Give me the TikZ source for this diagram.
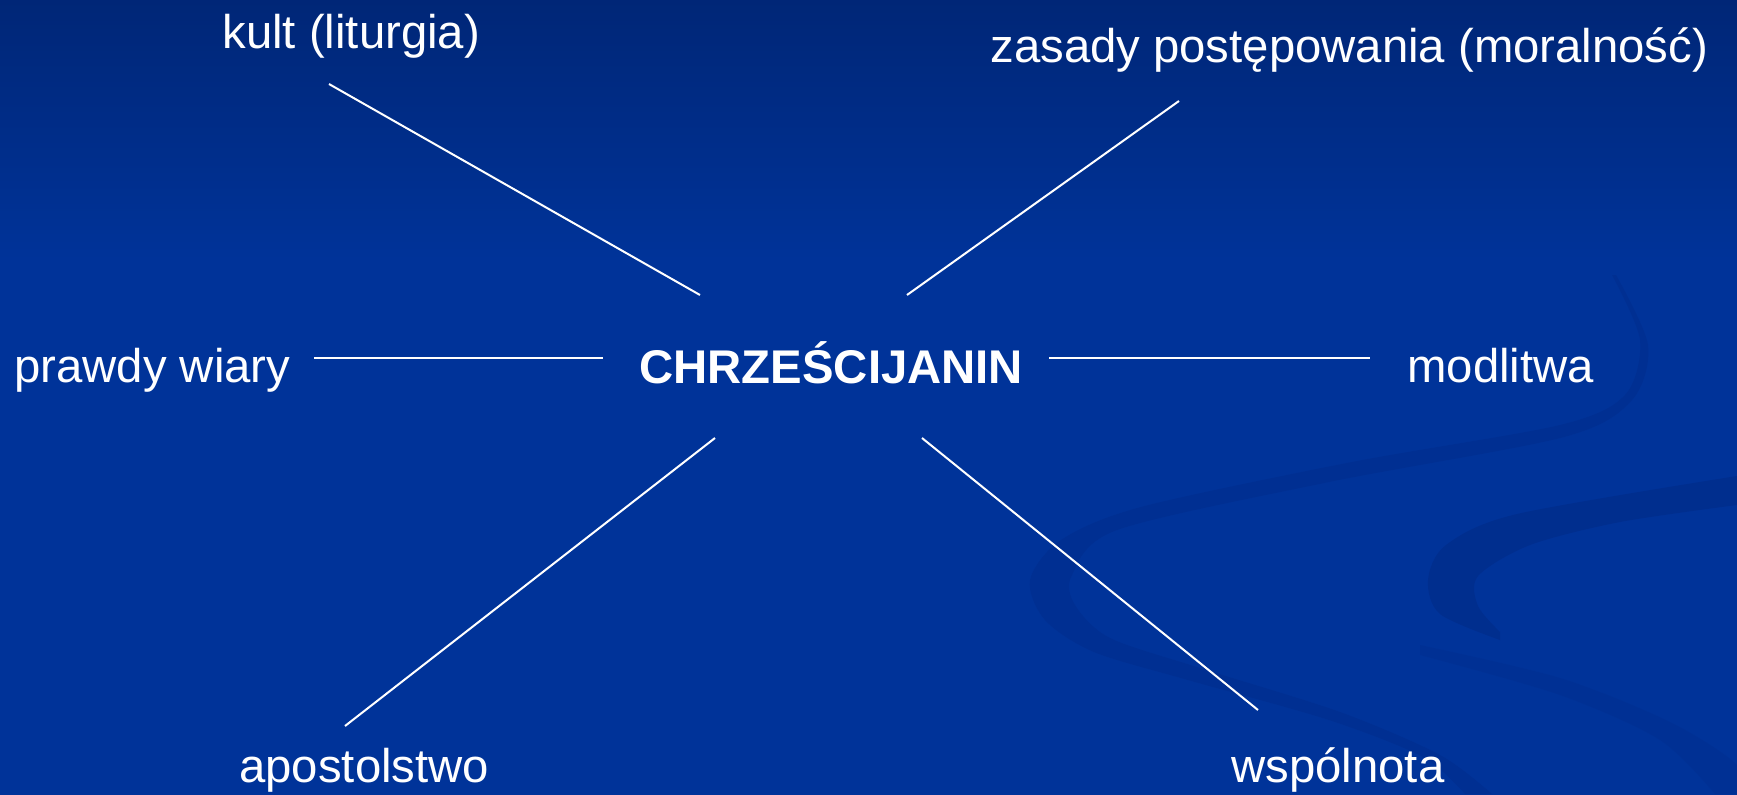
\documentclass[tikz,border=0pt]{standalone}
\usepackage{fontspec}
\setmainfont{Liberation Sans}
\definecolor{bgtop}{RGB}{0,38,118}
\definecolor{bgmid}{RGB}{0,51,153}
\definecolor{swoosh}{RGB}{0,40,130}
\begin{document}
\begin{tikzpicture}[x=0.5pt,y=-0.5pt,
  lbl/.style={anchor=base west,inner sep=0pt,text=white,font=\fontsize{23.65}{28}\selectfont},
  hub/.style={lbl,font=\fontsize{23.65}{28}\selectfont\bfseries},
  spoke/.style={draw=white,line width=1pt},
  band/.style={fill=swoosh,opacity=0.3}]
\useasboundingbox (0,0) rectangle (1737,794);
% background (slightly oversized to avoid edge seams)
\fill[bgmid] (-6,-6) rectangle (1743,800);
\shade[top color=bgtop,bottom color=bgmid] (-6,-6) rectangle (1743,260);
% swooshes
\fill[band] plot[smooth] coordinates {(1612,275) (1640,340) (1625,395) (1560,425) (1352,462) (1141,507) (1061,540) (1030,580) (1045,620) (1094,652) (1188,680) (1329,720) (1423,757) (1465,794)}
  -- plot[smooth] coordinates {(1492,794) (1440,755) (1340,712) (1200,668) (1110,638) (1075,605) (1072,575) (1117,530) (1329,482) (1564,437) (1632,400) (1648,345) (1616,275)} -- cycle;
\fill[band,opacity=0.45] plot[smooth] coordinates {(1737,476) (1517,514) (1446,545) (1428,580) (1440,614) (1500,640)}
  -- plot[smooth] coordinates {(1500,632) (1478,606) (1478,576) (1530,545) (1620,522) (1737,505)} -- cycle;
\fill[band,opacity=0.2] plot[smooth] coordinates {(1420,655) (1560,695) (1660,740) (1715,794)}
  -- plot[smooth] coordinates {(1737,794) (1737,765) (1670,722) (1560,678) (1420,645)} -- cycle;
% labels
\node[lbl] (kult) at (222,48) {kult (liturgia)};
\node[lbl] (zas) at (990,62) {zasady postępowania (moralność)};
\node[lbl] (praw) at (14,382) {prawdy wiary};
\node[hub] (chr) at (639,383) {CHRZEŚCIJANIN};
\node[lbl] (mod) at (1407,382) {modlitwa};
\node[lbl] (apo) at (239,782) {apostolstwo};
\node[lbl] (wsp) at (1231,782) {wspólnota};
% connector end points
\coordinate (k1) at (329,84);   \coordinate (k2) at (700,295);
\coordinate (z1) at (1179,101); \coordinate (z2) at (907,295);
\coordinate (p1) at (314,358);  \coordinate (p2) at (603,358);
\coordinate (m1) at (1049,358); \coordinate (m2) at (1370,358);
\coordinate (a1) at (715,438);  \coordinate (a2) at (345,726);
\coordinate (w1) at (922,438);  \coordinate (w2) at (1258,710);
\draw[spoke] (k1) -- (k2);
\draw[spoke] (z1) -- (z2);
\draw[spoke] (p1) -- (p2);
\draw[spoke] (m1) -- (m2);
\draw[spoke] (a1) -- (a2);
\draw[spoke] (w1) -- (w2);
\end{tikzpicture}
\end{document}
